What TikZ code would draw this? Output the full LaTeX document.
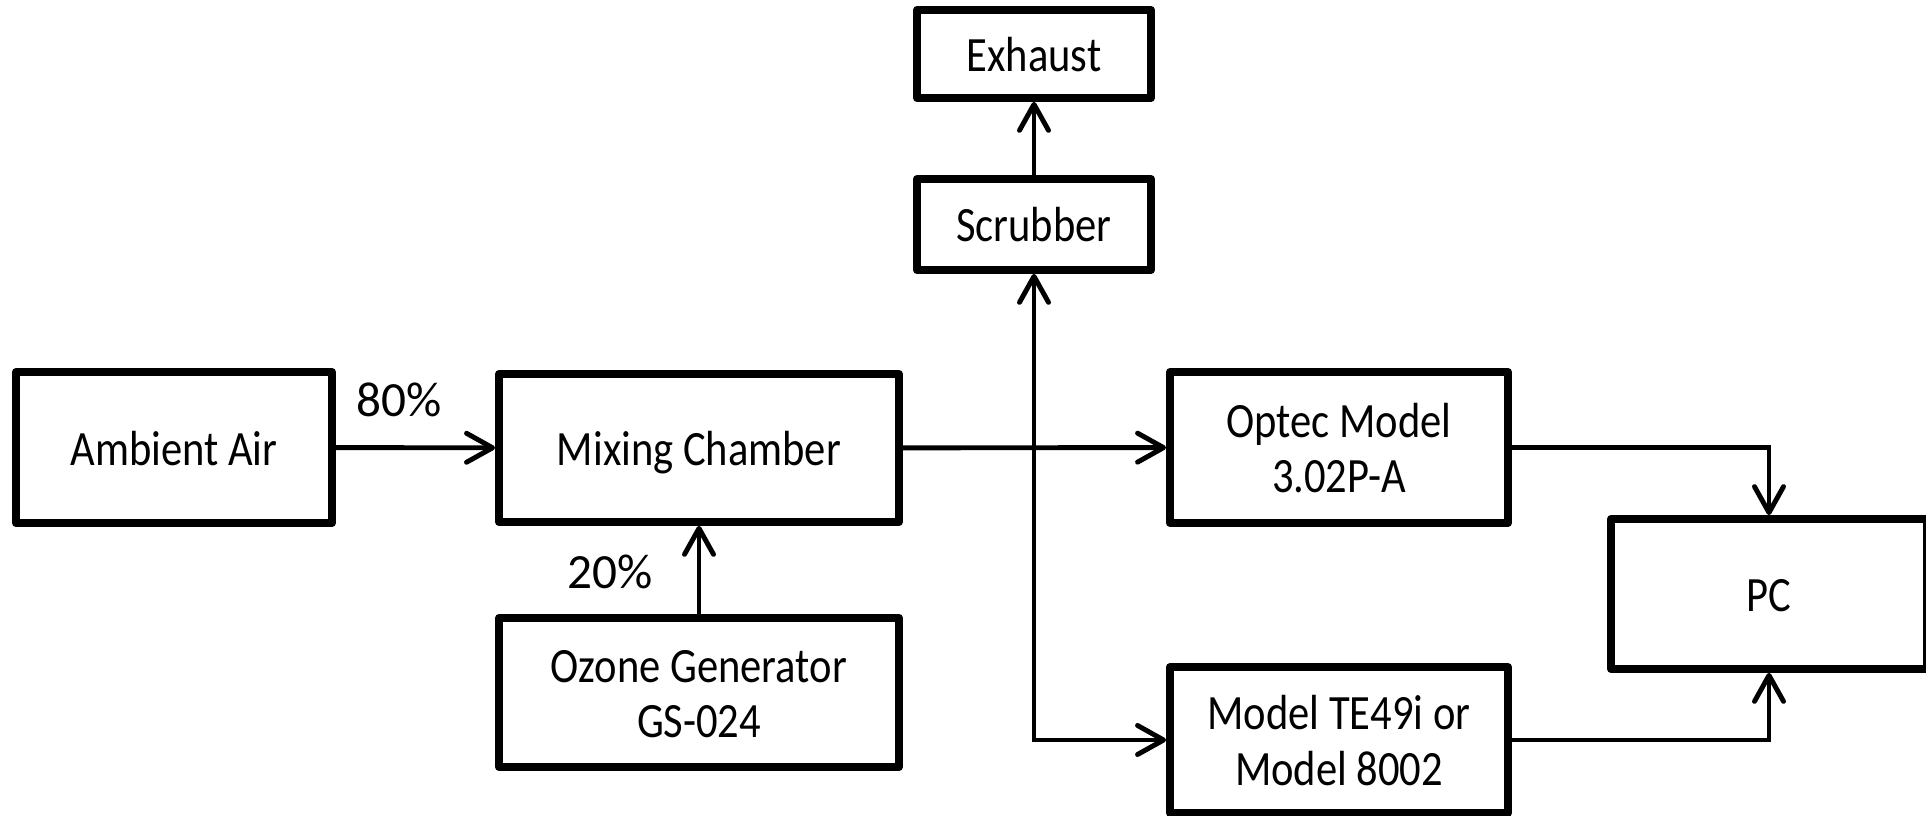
\documentclass[tikz,border=0pt]{standalone}
\usepackage{fontspec}
\setmainfont{Carlito}
\usepackage{graphicx}
\usepackage{tikz}
\usetikzlibrary{arrows.meta, positioning}

% tall narrow text, as in the reference
\newcommand{\tallbox}[1]{\raisebox{0pt}[\dimexpr\height+1.8pt][\dimexpr\depth-1.8pt]{\scalebox{1}[1.16]{\begin{tabular}{@{}c@{}}#1\end{tabular}}}}

\begin{document}
\begin{tikzpicture}[
			x=0.01cm, y=-0.01cm,
			>={Straight Barb[round, length=2.6mm, width=2.9mm]},
			block/.style={rectangle, draw=black, line width=2.2pt, line join=round, fill=white, align=center, inner sep=0pt, font=\fontsize{12.1}{13.7}\selectfont},
			flow/.style={line width=1.4pt, ->},
			lbl/.style={font=\fontsize{14}{16}\selectfont, inner sep=0pt}
			]
			\useasboundingbox (0,0) rectangle (1926,816);
			
			% Blocks
			\node[block, minimum width=3.16cm, minimum height=1.51cm] (air) at (174,447.5) {\tallbox{Ambient Air}};
			\node[block, minimum width=4.00cm, minimum height=1.48cm] (mix) at (699,448) {\tallbox{Mixing Chamber}};
			\node[block, minimum width=4.00cm, minimum height=1.49cm] (ozone) at (699,692.5) {\tallbox{Ozone Generator\\GS-024}};
			\node[block, minimum width=2.34cm, minimum height=0.88cm] (exhaust) at (1034,54) {\tallbox{Exhaust}};
			\node[block, minimum width=2.34cm, minimum height=0.91cm] (scrub) at (1034,224.5) {\tallbox{Scrubber}};
			\node[block, minimum width=3.38cm, minimum height=1.51cm] (optec) at (1339,447.5) {\tallbox{Optec Model\\3.02P-A}};
			\node[block, minimum width=3.38cm, minimum height=1.46cm] (te) at (1339,740) {\tallbox{Model TE49i or\\Model 8002}};
			\node[block, minimum width=3.16cm, minimum height=1.50cm] (pc) at (1769,594) {\tallbox{PC}};
			
			% Labels
			\node[lbl] (p80) at (399,400) {80\%};
			\node[lbl] (p20) at (610,572) {20\%};
			
			% Connections
			\draw[flow] (air) -- (mix);
			\draw[flow] (ozone) -- (mix);
			\draw[flow] (mix) -- (optec);
			\draw[flow] (scrub) -- (exhaust);
			\draw[flow, <->] (scrub.south) |- (te.west);
			\draw[flow] (optec.east) -| (pc.north);
			\draw[flow] (te.east) -| (pc.south);
		\end{tikzpicture}
\end{document}
